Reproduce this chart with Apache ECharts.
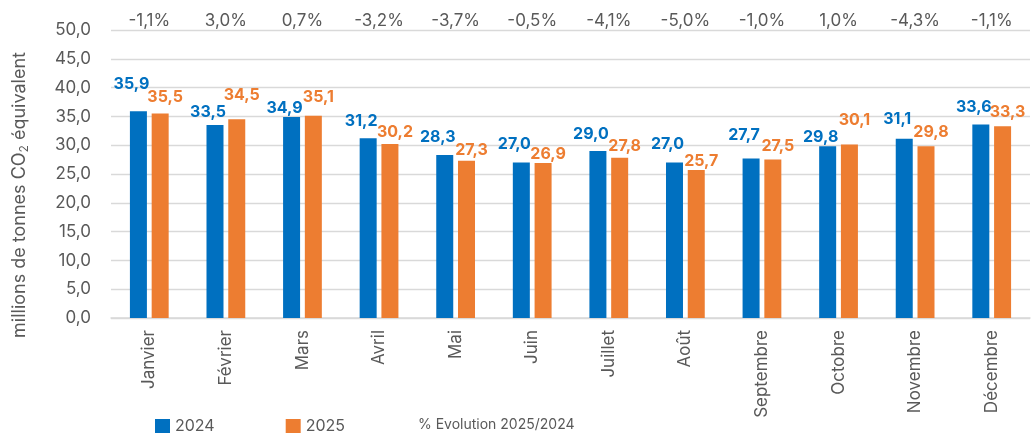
<!DOCTYPE html>
<html>
<head>
<meta charset="utf-8">
<script src="https://cdn.jsdelivr.net/npm/echarts@6/dist/echarts.min.js"></script>
<style>
  html, body { margin: 0; padding: 0; background: #fff; }
  #chart { width: 1036px; height: 434px; }
</style>
</head>
<body>
<div id="chart"></div>
<script>
const months = ['Janvier', 'Février', 'Mars', 'Avril', 'Mai', 'Juin', 'Juillet', 'Août', 'Septembre', 'Octobre', 'Novembre', 'Décembre'];
const values2024 = [35.9, 33.5, 34.9, 31.2, 28.3, 27.0, 29.0, 27.0, 27.7, 29.8, 31.1, 33.6];
const values2025 = [35.5, 34.5, 35.1, 30.2, 27.3, 26.9, 27.8, 25.7, 27.5, 30.1, 29.8, 33.3];
const evolution = ['-1,1%', '3,0%', '0,7%', '-3,2%', '-3,7%', '-0,5%', '-4,1%', '-5,0%', '-1,0%', '1,0%', '-4,3%', '-1,1%'];
const yTicks = { min: 0, max: 50, step: 5 };

// label lift above each bar (px), as placed by hand in the original
const labelGap2024 = [19, 5, 1, 9, 10, 10, 9, 10, 15, 1, 12, 9];
const labelGap2025 = [8, 16, 11, 4, 3, 1, 4, 1, 5, 16, 6, 6];

const FONT = 'Inter, "Noto Sans", sans-serif';
const GREY = '#595959';
const BLUE = '#0070C0';
const ORANGE = '#ED7D31';
const fmt = v => v.toFixed(1).replace('.', ',');

const withGaps = (vals, gaps) => vals.map((v, i) => ({ value: v, label: { distance: gaps[i] } }));

const chart = echarts.init(document.getElementById('chart'));

chart.setOption({
  animation: false,
  textStyle: { fontFamily: FONT },
  grid: { left: 111, right: 6, top: 30, bottom: 116, containLabel: false },
  xAxis: [
    {
      type: 'category',
      data: months,
      axisLine: { lineStyle: { color: '#D9D9D9', width: 1.5 } },
      axisTick: { show: false },
      axisLabel: { rotate: 90, interval: 0, margin: 12, color: GREY, fontSize: 17, fontFamily: FONT }
    },
    {
      type: 'category',
      position: 'top',
      data: evolution,
      axisLine: { show: false },
      axisTick: { show: false },
      axisLabel: { interval: 0, margin: 1, color: GREY, fontSize: 17, fontFamily: FONT }
    }
  ],
  yAxis: {
    type: 'value',
    min: yTicks.min,
    max: yTicks.max,
    interval: yTicks.step,
    axisLine: { show: false },
    axisTick: { show: false },
    splitLine: { lineStyle: { color: '#D9D9D9', width: 1.3 } },
    axisLabel: { formatter: fmt, margin: 20, color: GREY, fontSize: 17, fontFamily: FONT }
  },
  legend: [
    {
      data: ['2024', '2025'],
      left: 150,
      top: 413,
      itemWidth: 15,
      itemHeight: 14,
      itemGap: 71,
      icon: 'rect',
      textStyle: { color: GREY, fontSize: 16, fontFamily: FONT }
    },
    {
      data: ['% Evolution 2025/2024'],
      left: 408,
      top: 413,
      itemWidth: 0,
      icon: 'none',
      textStyle: { color: GREY, fontSize: 14, fontFamily: FONT }
    }
  ],
  graphic: [{
    type: 'text',
    x: 20,
    y: 195,
    rotation: Math.PI / 2,
    style: {
      text: 'millions de tonnes CO{sub|2} équivalent',
      fill: GREY,
      font: '18px ' + FONT,
      align: 'center',
      verticalAlign: 'middle',
      rich: { sub: { fontSize: 12, padding: [9, 0, 0, 0], fill: GREY, fontFamily: FONT } }
    }
  }],
  series: [
    {
      name: '2024',
      type: 'bar',
      data: withGaps(values2024, labelGap2024),
      barWidth: 17,
      barGap: '28%',
      itemStyle: { color: BLUE },
      label: {
        show: true, position: 'top', offset: [-7, 0],
        formatter: p => fmt(p.value), color: BLUE, fontWeight: 'bold', fontSize: 16, fontFamily: FONT
      }
    },
    {
      name: '2025',
      type: 'bar',
      data: withGaps(values2025, labelGap2025),
      barWidth: 17,
      barGap: '28%',
      itemStyle: { color: ORANGE },
      label: {
        show: true, position: 'top', offset: [5, 0],
        formatter: p => fmt(p.value), color: ORANGE, fontWeight: 'bold', fontSize: 16, fontFamily: FONT
      }
    },
    {
      name: '% Evolution 2025/2024',
      type: 'line',
      data: [],
      symbol: 'none'
    }
  ]
});
</script>
</body>
</html>
